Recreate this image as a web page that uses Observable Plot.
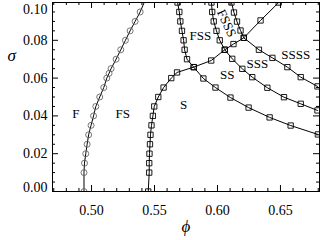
<!DOCTYPE html>
<html><head><meta charset="utf-8">
<script src="https://cdn.jsdelivr.net/npm/d3@7"></script>
<script src="https://cdn.jsdelivr.net/npm/@observablehq/plot@0.6"></script>
<style>
body{margin:0;background:#fff;}
#chart{width:323px;height:240px;}
</style></head><body><div id="chart"></div>
<script>
// Freezing line F|FS (circles)
const freezePhi   = [0.494,0.494,0.4944,0.4954,0.4965,0.4977,0.4996,0.5016,0.5034,0.5065,0.5097,0.5121,0.5139,0.5155,0.5195,0.5232,0.5269,0.5306,0.5346,0.5386];
const freezeSigma = [0,0.01,0.015,0.02,0.025,0.03,0.035,0.04,0.045,0.05,0.055,0.06,0.0625,0.065,0.07,0.075,0.08,0.085,0.09,0.095];
const freezeEndPhi = [0.5418], freezeEndSigma = [0.10];
// Melting line FS|S continuing as FSS|SS ... (squares)
const meltPhi   = [0.545,0.5458,0.5458,0.546,0.5464,0.5468,0.5476,0.5487,0.5498,0.553,0.5572,0.5633,0.5679,0.5811,0.595,0.6058,0.6127,0.6209,0.6342,0.6486];
const meltSigma = [0,0.01,0.015,0.02,0.025,0.03,0.035,0.04,0.045,0.05,0.055,0.06,0.063,0.0658,0.0693,0.075,0.078,0.0813,0.0905,0.10];
// FS|FSS continuing as S|SS
const ssPhi   = [0.5683,0.5697,0.5705,0.5718,0.5731,0.5739,0.5758,0.5811,0.5888,0.5984,0.6103,0.6247,0.6414,0.6581,0.6797];
const ssSigma = [0.10,0.095,0.09,0.085,0.08,0.075,0.07,0.0658,0.0598,0.055,0.0497,0.0444,0.0392,0.0349,0.0302];
// FSS|FSSS continuing as SS|SSS
const sssPhi   = [0.5952,0.5958,0.597,0.5992,0.6018,0.6058,0.6117,0.6197,0.6276,0.6396,0.6528,0.6661,0.6794];
const sssSigma = [0.10,0.095,0.09,0.085,0.08,0.075,0.0702,0.0649,0.0605,0.0549,0.0499,0.0464,0.0429];
// FSSS|... continuing as SSS|SSSS
const ssssPhi   = [0.6111,0.6131,0.6155,0.6183,0.6209,0.6329,0.6436,0.6555,0.6661,0.6794];
const ssssSigma = [0.10,0.0947,0.0899,0.0852,0.0813,0.075,0.0707,0.0658,0.0605,0.0556];

const regionNames = ["F","FS","S","FSS","SS","SSS","SSSS"];
const regionPhi   = [0.4876,0.5248,0.5731,0.5864,0.6077,0.6316,0.6621];
const regionSigma = [0.041,0.041,0.046,0.0824,0.0615,0.0677,0.0722];
const rotNames = ["FSSS"], rotPhi = [0.6072], rotSigma = [0.089];

const xMajor = [0.50,0.55,0.60,0.65];
const xMinor = [0.47,0.48,0.49,0.51,0.52,0.53,0.54,0.56,0.57,0.58,0.59,0.61,0.62,0.63,0.64,0.66,0.67,0.68];
const yMajorMid = [0.02,0.04,0.06,0.08];
const yTop = [0.10], yBottom = [0.00];
const yMinor = [0.005,0.01,0.015,0.025,0.03,0.035,0.045,0.05,0.055,0.065,0.07,0.075,0.085,0.09,0.095];

const W=323,H=240,mt=2,mb=49,ml=52,mr=4;
const innerH=H-mt-mb, innerW=W-ml-mr;
const pts=(name,p,s)=>p.map((v,i)=>({name,phi:v,sigma:s[i]}));
const freeze = pts("freeze",freezePhi,freezeSigma);
const freezeLine = freeze.concat(pts("freeze",freezeEndPhi,freezeEndSigma));
const squares = [...pts("melt",meltPhi,meltSigma),...pts("ss",ssPhi,ssSigma),...pts("sss",sssPhi,sssSigma),...pts("ssss",ssssPhi,ssssSigma)];
const regions = regionNames.map((n,i)=>({n,phi:regionPhi[i],sigma:regionSigma[i]}));
const rot = rotNames.map((n,i)=>({n,phi:rotPhi[i],sigma:rotSigma[i]}));
const fmt = d3.format(".2f");
const serif = "Liberation Serif, Times New Roman, serif";

const chart = Plot.plot({
  width:W,height:H,marginTop:mt,marginBottom:mb,marginLeft:ml,marginRight:mr,
  style:{fontFamily:serif,fontSize:"14px",background:"#fff",color:"#000"},
  x:{domain:[0.469,0.681]},
  y:{domain:[0,0.10]},
  marks:[
    Plot.line(freezeLine,{x:"phi",y:"sigma",stroke:"#000",strokeWidth:1,clip:true}),
    Plot.dot(freeze,{x:"phi",y:"sigma",r:3,stroke:"#666",fill:"none",strokeWidth:0.9,clip:true}),
    Plot.line(squares,{x:"phi",y:"sigma",z:"name",stroke:"#000",strokeWidth:1,clip:true}),
    Plot.dot(squares,{x:"phi",y:"sigma",symbol:"square",r:3,stroke:"#000",fill:"none",strokeWidth:0.9,clip:true}),
    Plot.text(regions,{x:"phi",y:"sigma",text:"n",fontSize:13,fontFamily:serif,fill:"#000"}),
    Plot.text(rot,{x:"phi",y:"sigma",text:"n",fontSize:13,fontFamily:serif,fill:"#000",rotate:65}),
    // inward ticks on all four sides
    Plot.tickX(xMajor,{x:d=>d,insetTop:innerH-6,stroke:"#000"}),
    Plot.tickX(xMajor,{x:d=>d,insetBottom:innerH-6,stroke:"#000"}),
    Plot.tickX(xMinor,{x:d=>d,insetTop:innerH-3,stroke:"#000"}),
    Plot.tickX(xMinor,{x:d=>d,insetBottom:innerH-3,stroke:"#000"}),
    Plot.tickY([...yMajorMid,...yTop,...yBottom],{y:d=>d,insetRight:innerW-6,stroke:"#000"}),
    Plot.tickY([...yMajorMid,...yTop,...yBottom],{y:d=>d,insetLeft:innerW-6,stroke:"#000"}),
    Plot.tickY(yMinor,{y:d=>d,insetRight:innerW-3,stroke:"#000"}),
    Plot.tickY(yMinor,{y:d=>d,insetLeft:innerW-3,stroke:"#000"}),
    Plot.axisX(xMajor,{tickSize:0,tickPadding:14,tickFormat:fmt,label:null,fontSize:14}),
    Plot.axisY(yMajorMid,{tickSize:0,tickPadding:5,tickFormat:fmt,label:null,fontSize:14}),
    Plot.axisY(yTop,{tickSize:0,tickPadding:5,tickFormat:fmt,label:null,fontSize:14,dy:7}),
    Plot.axisY(yBottom,{tickSize:0,tickPadding:5,tickFormat:fmt,label:null,fontSize:14,dy:-4}),
    Plot.text(["\u03D5"],{frameAnchor:"bottom",dy:40,text:d=>d,fontSize:17,fontStyle:"italic",fontFamily:serif}),
    Plot.text(["\u03C3"],{frameAnchor:"left",y:[0.072],dx:-45,text:d=>d,fontSize:17,fontStyle:"italic",fontFamily:serif}),
    Plot.frame({stroke:"#000",strokeWidth:1})
  ]
});
document.getElementById("chart").appendChild(chart);
</script>
</body></html>
